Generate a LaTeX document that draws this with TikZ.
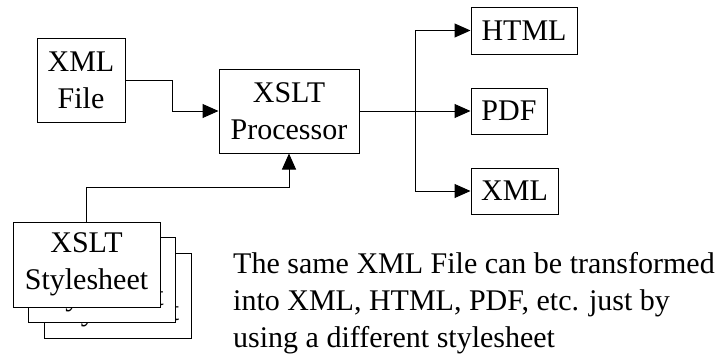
\documentclass[tikz,border=0pt]{standalone}
\usepackage{fontspec}
\setmainfont{Liberation Serif}
\usetikzlibrary{arrows.meta}

\begin{document}
\begin{tikzpicture}[x=1pt,y=-1pt,
  box/.style={draw,line width=1pt,fill=white,inner sep=0pt,align=center,
    font=\fontsize{30}{37}\selectfont},
  conn/.style={line width=1pt,-{Triangle[length=16pt,width=14pt]}}]
\useasboundingbox (0,0) rectangle (728,359);

\node [box,minimum width=88pt,minimum height=84pt] (xmlfile) at (81,80) {XML\\File};
\node [box,minimum width=140pt,minimum height=84pt] (proc) at (289,111) {XSLT\\Processor};
\node [box,minimum width=106pt,minimum height=47pt] (html) at (524,30.5) {HTML};
\node [box,minimum width=76pt,minimum height=46pt] (pdf) at (509,111) {PDF};
\node [box,minimum width=87pt,minimum height=46pt] (xmlout) at (514.5,191) {XML};

% stack of stylesheets, back to front
\node [box,minimum width=147pt,minimum height=85pt] (sheetc) at (117.5,295.5) {XSLT\\Stylesheet};
\node [box,minimum width=147pt,minimum height=85pt] (sheetb) at (102,280) {XSLT\\Stylesheet};
\node [box,minimum width=147pt,minimum height=85pt] (sheet) at (86.5,264.5) {XSLT\\Stylesheet};

\coordinate (split) at (415,111);

\draw [conn] (xmlfile.east) -- ++(47,0) |- (proc.west);
\draw [line width=1pt] (proc.east) -- (split);
\draw [conn] (split) |- (html.west);
\draw [conn] (split) -- (pdf.west);
\draw [conn] (split) |- (xmlout.west);
\draw [conn] (sheet.north) -- ++(0,-34) -| (proc.south);

\node [anchor=base west,inner sep=0pt,align=left,font=\fontsize{30}{37}\selectfont]
  (note) at (233,347) {The same XML File can be transformed\\
  into XML, HTML, PDF, etc. just by\\using a different stylesheet};
\end{tikzpicture}
\end{document}
